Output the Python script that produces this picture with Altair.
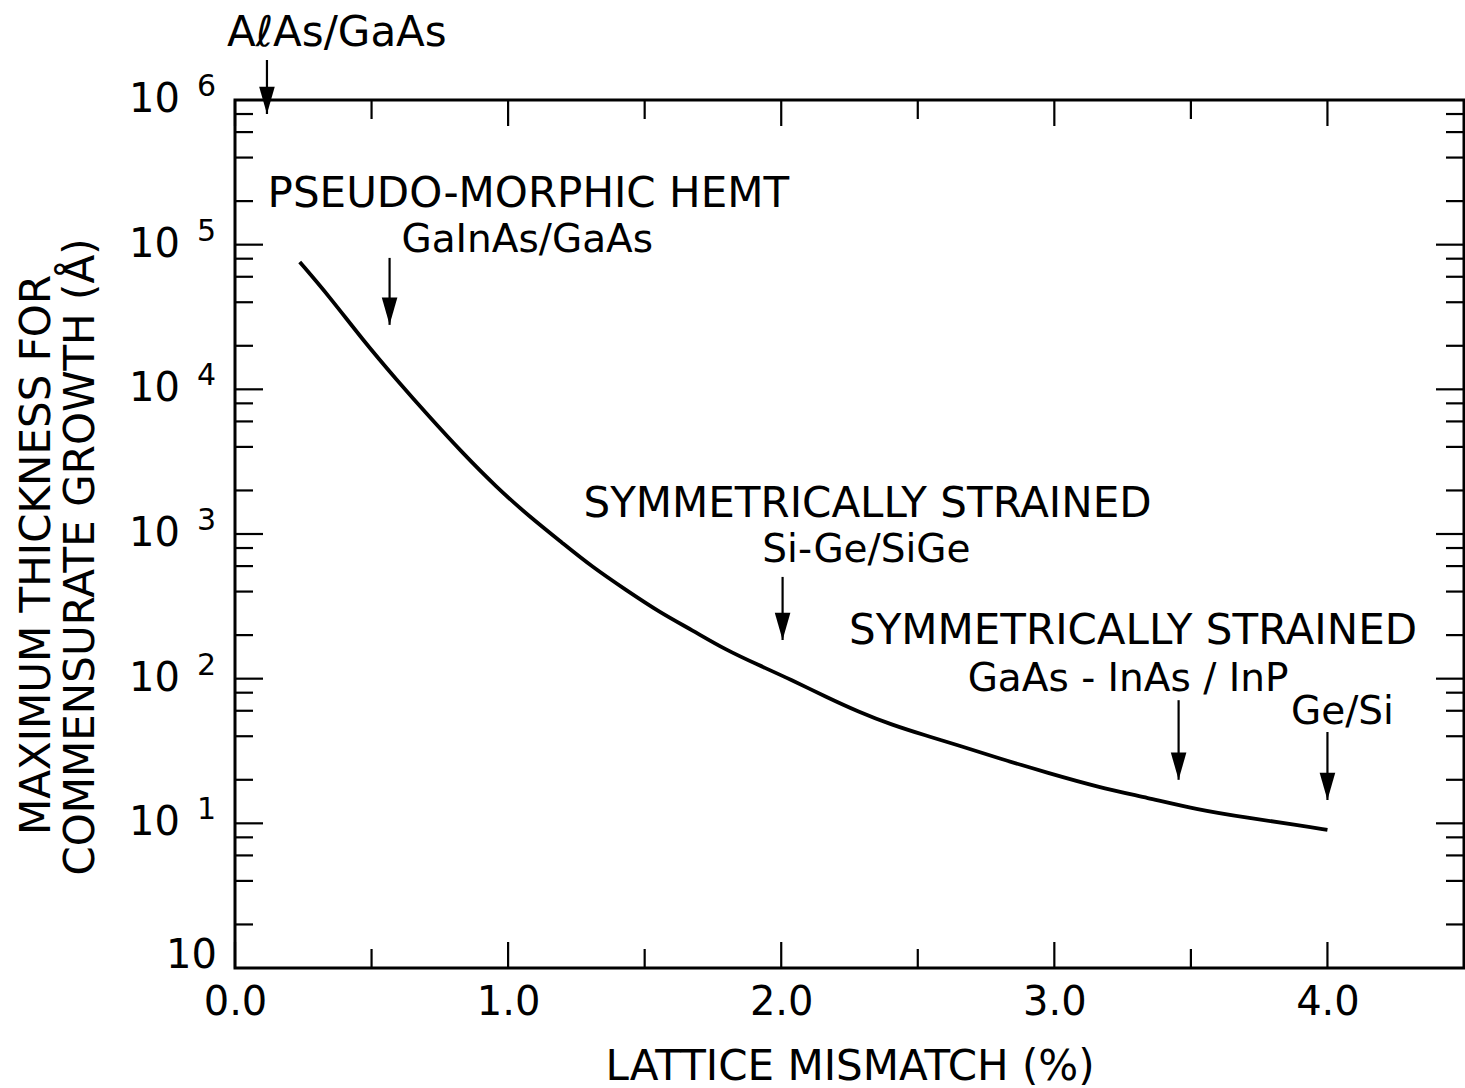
import altair as alt
import pandas as pd

# Critical (commensurate) thickness versus lattice mismatch
mismatch_pct = [0.237, 0.347, 0.468, 0.592, 0.712, 0.833, 0.957, 1.078, 1.198, 1.308,
                1.432, 1.553, 1.673, 1.797, 1.918, 2.038, 2.163, 2.283, 2.404, 2.528,
                2.648, 2.795, 2.977, 3.160, 3.342, 3.525, 3.708, 3.890, 4.0]
thickness_A = [75900, 43450, 21930, 11610, 6440, 3630, 2110, 1320, 870, 592,
               410, 289, 217, 158, 124, 98, 75, 59, 48, 40.5,
               34.7, 28.2, 22.3, 17.8, 15.0, 12.4, 10.9, 9.75, 9.0]

# Axis ticks
x_major = [0.0, 1.0, 2.0, 3.0, 4.0]
x_minor = [0.5, 1.5, 2.5, 3.5]
y_major = [1, 10, 100, 1000, 1e4, 1e5, 1e6]
y_minor = [m * 10 ** k for k in range(6) for m in (2, 4, 6, 8)]
y_exponents = ["1", "2", "3", "4", "5", "6"]

# Material-system markers: arrow x, arrow top, arrow tip
arrow_x = [0.117, 0.566, 2.005, 3.455, 4.0]
arrow_top = [1.89e6, 8.1e4, 505, 71, 42.8]
arrow_tip = [8.0e5, 2.79e4, 185, 20, 14.5]

# Annotation text
head_text = ["PSEUDO-MORPHIC HEMT", "SYMMETRICALLY  STRAINED", "SYMMETRICALLY  STRAINED"]
head_x = [1.074, 2.316, 3.288]
head_y = [2.25e5, 1620, 215]
sub_text = ["GaInAs/GaAs", "Si-Ge/SiGe", "GaAs - InAs / InP", "Ge/Si"]
sub_x = [1.07, 2.312, 3.27, 4.055]
sub_y = [1.08e5, 780, 99, 59]
top_text = ["AℓAs/GaAs"]
top_x = [0.373]
top_y = [2.9e6]

W, H = 1229, 868
FONT = "DejaVu Sans"

xs = alt.Scale(domain=[0, 4.5], nice=False, zero=False)
ys = alt.Scale(type="log", domain=[1, 1e6], nice=False)

curve_df = pd.DataFrame({"x": mismatch_pct, "y": thickness_A})
curve = alt.Chart(curve_df).mark_line(
    color="black", strokeWidth=3.8, interpolate="basis", clip=False
).encode(
    x=alt.X("x:Q", scale=xs,
            axis=alt.Axis(values=x_major, format=".1f", ticks=False, domain=False,
                          grid=False, labelFont=FONT, labelFontSize=40,
                          labelColor="black", labelPadding=14, labelFlush=False,
                          title="LATTICE MISMATCH (%)", titleFont=FONT,
                          titleFontSize=42, titleFontWeight="normal",
                          titleColor="black", titlePadding=24)),
    y=alt.Y("y:Q", scale=ys, axis=None),
)

def xticks(vals, length, top):
    df = pd.DataFrame({"x": vals})
    if top:
        y1, y2 = alt.value(0), alt.value(length)
    else:
        y1, y2 = alt.value(H), alt.value(H - length)
    return alt.Chart(df).mark_rule(color="black", strokeWidth=2.2).encode(
        x=alt.X("x:Q", scale=xs), y=y1, y2=y2)

def yticks(vals, length, right):
    df = pd.DataFrame({"y": vals})
    if right:
        x1, x2 = alt.value(W), alt.value(W - length)
    else:
        x1, x2 = alt.value(0), alt.value(length)
    return alt.Chart(df).mark_rule(color="black", strokeWidth=2.2).encode(
        y=alt.Y("y:Q", scale=ys), x=x1, x2=x2)

ticks = [
    xticks(x_major, 26, False), xticks(x_minor, 19, False),
    xticks(x_major, 26, True), xticks(x_minor, 19, True),
    yticks(y_major[1:-1], 28, False), yticks(y_minor, 18, False),
    yticks(y_major[1:-1], 28, True), yticks(y_minor, 18, True),
]

# y tick labels: "10" with a raised exponent
ylab_df = pd.DataFrame({"y": y_major[1:], "exp": y_exponents})
ylab_base = alt.Chart(ylab_df).mark_text(
    text="10", font=FONT, fontSize=40, align="right", baseline="middle", color="black"
).encode(y=alt.Y("y:Q", scale=ys), x=alt.value(-55))
ylab_exp = alt.Chart(ylab_df).mark_text(
    font=FONT, fontSize=30, align="left", baseline="middle", dy=-13, color="black"
).encode(y=alt.Y("y:Q", scale=ys), x=alt.value(-38), text="exp:N")
ylab_bottom = alt.Chart(pd.DataFrame({"y": y_major[:1]})).mark_text(
    text="10", font=FONT, fontSize=40, align="right", baseline="middle", dy=-12,
    color="black"
).encode(y=alt.Y("y:Q", scale=ys), x=alt.value(-18))

# y axis title (two lines, rotated)
ytitle1 = alt.Chart(pd.DataFrame({"t": ["MAXIMUM THICKNESS FOR"]})).mark_text(
    font=FONT, fontSize=42, angle=270, align="center", baseline="middle", color="black"
).encode(text="t:N", x=alt.value(37 - 235), y=alt.value(555 - 100))
ytitle2 = alt.Chart(pd.DataFrame({"t": ["COMMENSURATE GROWTH (Å)"]})).mark_text(
    font=FONT, fontSize=42, angle=270, align="center", baseline="middle", color="black"
).encode(text="t:N", x=alt.value(81 - 235), y=alt.value(557 - 100))

# arrows
arrow_df = pd.DataFrame({"x": arrow_x, "top": arrow_top, "tip": arrow_tip})
shafts = alt.Chart(arrow_df).mark_rule(color="black", strokeWidth=2.2, clip=False).encode(
    x=alt.X("x:Q", scale=xs), y=alt.Y("top:Q", scale=ys), y2="tip:Q")
heads = alt.Chart(arrow_df).mark_point(
    shape="M-0.6,-2.1L0.6,-2.1L0,0Z", size=676, filled=True, color="black",
    opacity=1, clip=False
).encode(x=alt.X("x:Q", scale=xs), y=alt.Y("tip:Q", scale=ys))

def labels(text, x, y, size):
    df = pd.DataFrame({"t": text, "x": x, "y": y})
    return alt.Chart(df).mark_text(
        font=FONT, fontSize=size, align="center", baseline="middle", color="black",
        clip=False
    ).encode(x=alt.X("x:Q", scale=xs), y=alt.Y("y:Q", scale=ys), text="t:N")

annotations = [labels(head_text, head_x, head_y, 42),
               labels(sub_text, sub_x, sub_y, 39),
               labels(top_text, top_x, top_y, 42)]

chart = alt.layer(
    curve, *ticks, ylab_base, ylab_exp, ylab_bottom, ytitle1, ytitle2,
    shafts, heads, *annotations
).properties(
    width=W, height=H,
    autosize=alt.AutoSizeParams(type="none"),
    padding={"left": 235, "top": 100, "right": 1, "bottom": 120},
    background="white",
).configure_view(
    stroke="black", strokeWidth=3
)

chart.save("out.html", embed_options={"renderer": "svg", "actions": False})
